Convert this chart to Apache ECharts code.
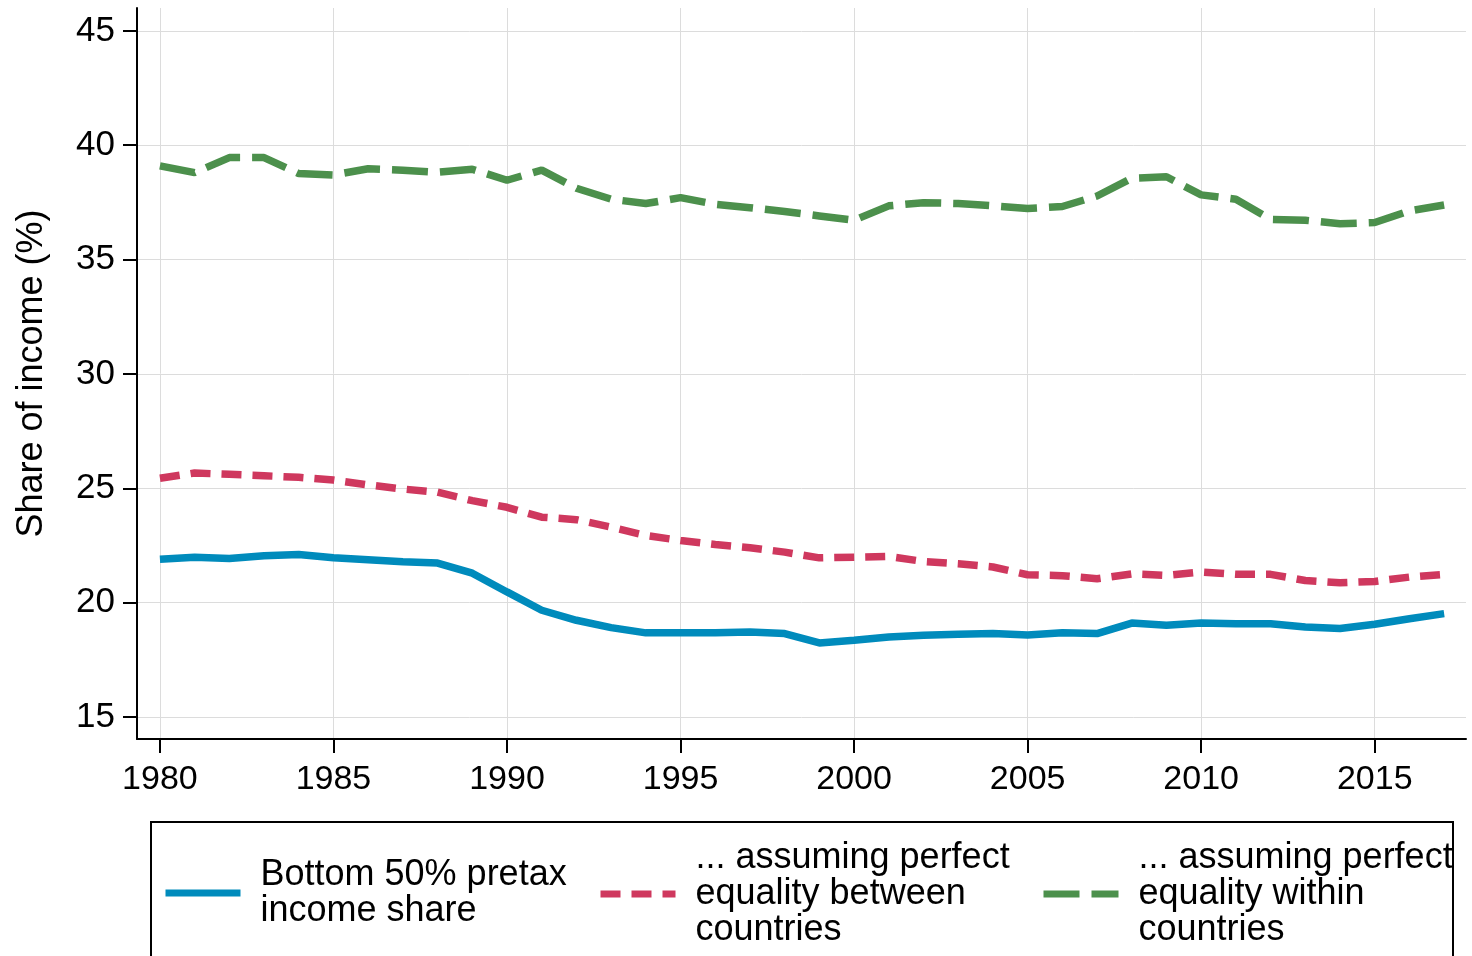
<!DOCTYPE html>
<html lang="en">
<head>
    <meta charset="UTF-8">
    <title>Bottom 50% income share</title>
    <style>
        html, body { margin: 0; padding: 0; background: #fff; }
        #chart { width: 1472px; height: 956px; }
    </style>
    <script src="https://cdn.jsdelivr.net/npm/echarts@6/dist/echarts.min.js"></script>
</head>
<body>
<div id="chart"></div>
<script>
    // data
    var years = [1980, 1981, 1982, 1983, 1984, 1985, 1986, 1987, 1988, 1989,
                 1990, 1991, 1992, 1993, 1994, 1995, 1996, 1997, 1998, 1999,
                 2000, 2001, 2002, 2003, 2004, 2005, 2006, 2007, 2008, 2009,
                 2010, 2011, 2012, 2013, 2014, 2015, 2016, 2017];
    var bottom50 = [21.90, 21.99, 21.93, 22.05, 22.11, 21.96, 21.88, 21.79, 21.73, 21.29,
                    20.47, 19.67, 19.23, 18.91, 18.68, 18.68, 18.68, 18.72, 18.65, 18.24,
                    18.36, 18.50, 18.58, 18.62, 18.65, 18.59, 18.69, 18.65, 19.11, 19.01,
                    19.11, 19.08, 19.08, 18.94, 18.87, 19.06, 19.30, 19.52];
    var betweenEq = [25.44, 25.67, 25.61, 25.55, 25.48, 25.36, 25.15, 24.97, 24.83, 24.46,
                     24.17, 23.74, 23.63, 23.30, 22.94, 22.72, 22.54, 22.40, 22.21, 21.96,
                     21.99, 22.02, 21.80, 21.70, 21.56, 21.22, 21.18, 21.05, 21.26, 21.19,
                     21.34, 21.24, 21.24, 20.97, 20.87, 20.93, 21.12, 21.24];
    var withinEq = [39.10, 38.80, 39.46, 39.46, 38.76, 38.70, 38.97, 38.91, 38.82, 38.95,
                    38.47, 38.91, 38.12, 37.64, 37.45, 37.71, 37.42, 37.27, 37.10, 36.91,
                    36.72, 37.35, 37.49, 37.45, 37.35, 37.23, 37.32, 37.78, 38.56, 38.62,
                    37.83, 37.64, 36.76, 36.72, 36.57, 36.62, 37.13, 37.39];
    var xTicks = [1980, 1985, 1990, 1995, 2000, 2005, 2010, 2015];
    var yTicks = [15, 20, 25, 30, 35, 40, 45];
    var names = ['Bottom 50% pretax\nincome share',
                 '... assuming perfect\nequality between\ncountries',
                 '... assuming perfect\nequality within\ncountries'];

    function pairs(vals) {
        var out = [];
        for (var i = 0; i < years.length; i++) {
            out.push([years[i], vals[i]]);
        }
        return out;
    }

    var font = 'Liberation Sans, Arial, Helvetica, sans-serif';
    var chart = echarts.init(document.getElementById('chart'));

    // one legend per entry so each can sit where the original has it
    function legendAt(left, top, name) {
        return {
            left: left,
            top: top,
            orient: 'horizontal',
            itemWidth: 75,
            itemHeight: 14,
            data: [name],
            lineStyle: { width: 7, cap: 'butt' },
            itemStyle: { color: 'rgba(0,0,0,0)', borderWidth: 0, opacity: 0 },
            textStyle: {
                fontFamily: font,
                fontSize: 36,
                lineHeight: 36,
                color: '#000',
                padding: [10, 0, 0, 15]
            }
        };
    }

    var option = {
        animation: false,
        backgroundColor: '#fff',
        grid: {
            left: 137,
            right: 6,
            top: 8,
            bottom: 217
        },
        xAxis: {
            type: 'value',
            min: 1979.34,
            max: 2017.63,
            axisLine: { show: true, lineStyle: { color: '#000', width: 2 } },
            axisTick: {
                show: true,
                length: 14,
                customValues: xTicks,
                lineStyle: { color: '#000', width: 2 }
            },
            axisLabel: {
                customValues: xTicks,
                margin: 24,
                fontFamily: font,
                fontSize: 34,
                color: '#000',
                formatter: function (v) { return String(v); }
            },
            splitLine: { show: true, lineStyle: { color: '#dcdcdc', width: 1 } }
        },
        yAxis: {
            type: 'value',
            min: 14.04,
            max: 46.0,
            name: 'Share of income (%)',
            nameLocation: 'middle',
            nameGap: 87,
            nameTextStyle: { fontFamily: font, fontSize: 36, color: '#000' },
            axisLine: { show: true, lineStyle: { color: '#000', width: 2 } },
            axisTick: {
                show: true,
                length: 14,
                customValues: yTicks,
                lineStyle: { color: '#000', width: 2 }
            },
            axisLabel: {
                customValues: yTicks,
                margin: 22,
                fontFamily: font,
                fontSize: 35,
                color: '#000'
            },
            splitLine: { show: true, lineStyle: { color: '#dcdcdc', width: 1 } }
        },
        legend: [
            legendAt(157, 847, names[0]),
            legendAt(592, 830, names[1]),
            legendAt(1035, 830, names[2])
        ],
        graphic: [
            {
                type: 'rect',
                shape: { x: 151, y: 822, width: 1302, height: 200 },
                style: { fill: 'none', stroke: '#000', lineWidth: 2 }
            }
        ],
        series: [
            {
                name: names[2],
                type: 'line',
                data: pairs(withinEq),
                showSymbol: false,
                symbol: 'none',
                color: '#4c904c',
                lineStyle: { width: 7.5, color: '#4c904c', type: [36, 12], cap: 'butt' }
            },
            {
                name: names[1],
                type: 'line',
                data: pairs(betweenEq),
                showSymbol: false,
                symbol: 'none',
                color: '#cf385e',
                lineStyle: { width: 7.5, color: '#cf385e', type: [20, 11], cap: 'butt' }
            },
            {
                name: names[0],
                type: 'line',
                data: pairs(bottom50),
                showSymbol: false,
                symbol: 'none',
                color: '#008bbc',
                lineStyle: { width: 7.5, color: '#008bbc' }
            }
        ]
    };
    chart.setOption(option);
</script>
</body>
</html>
